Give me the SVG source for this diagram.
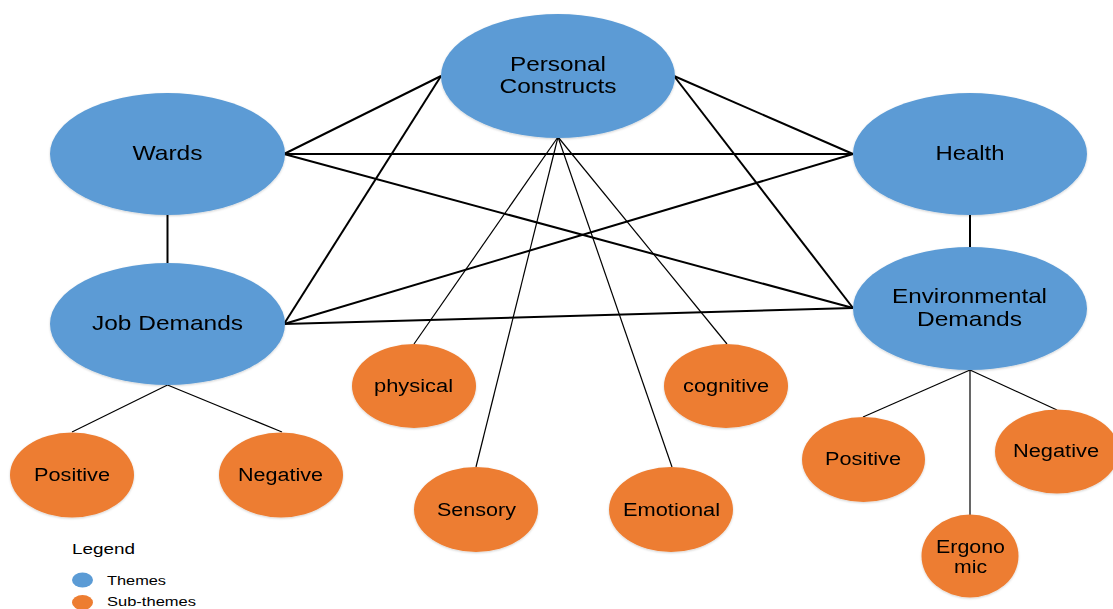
<svg xmlns="http://www.w3.org/2000/svg" width="1113" height="609" viewBox="0 0 1113 609">
  <style>
    .theme { fill: #5B9BD5; }
    .sub { fill: #ED7D31; }
    .label { font-family: "Liberation Sans", Arial, sans-serif; fill: #000; text-anchor: middle; }
    .tl { font-size: 21px; }
    .sl { font-size: 18px; }
    .leg { font-family: "Liberation Sans", Arial, sans-serif; fill: #000; }
    .main line { stroke: #000; stroke-width: 2; }
    .branch line { stroke: #000; stroke-width: 1.2; }
  </style>
  <defs>
    <filter id="soft" x="-10%" y="-10%" width="120%" height="120%">
      <feGaussianBlur in="SourceAlpha" stdDeviation="1.2" result="b"/>
      <feOffset dy="1" result="o"/>
      <feFlood flood-color="#000" flood-opacity="0.18"/>
      <feComposite in2="o" operator="in" result="s"/>
      <feMerge><feMergeNode in="s"/><feMergeNode in="SourceGraphic"/></feMerge>
    </filter>
  </defs>
  <rect width="1113" height="609" fill="#fff"/>

  <!-- connectors -->
  <g id="connectors">
    <g class="main">
      <line x1="284" y1="154" x2="441" y2="76"/>
      <line x1="284" y1="154" x2="853" y2="154"/>
      <line x1="284" y1="154" x2="853" y2="308"/>
      <line x1="284" y1="324" x2="441" y2="76"/>
      <line x1="284" y1="324" x2="853" y2="154"/>
      <line x1="284" y1="324" x2="853" y2="308"/>
      <line x1="674" y1="76" x2="853" y2="154"/>
      <line x1="674" y1="76" x2="853" y2="308"/>
      <line x1="167.5" y1="215" x2="167.5" y2="263"/>
      <line x1="970" y1="215" x2="970" y2="247"/>
    </g>
    <g class="branch">
      <line x1="558" y1="137" x2="414" y2="344"/>
      <line x1="558" y1="137" x2="476" y2="467"/>
      <line x1="558" y1="137" x2="672" y2="467"/>
      <line x1="558" y1="137" x2="727" y2="344"/>
      <line x1="167.5" y1="385" x2="72" y2="432"/>
      <line x1="167.5" y1="385" x2="282" y2="432"/>
      <line x1="970" y1="370" x2="863" y2="417"/>
      <line x1="970" y1="370" x2="970" y2="515"/>
      <line x1="970" y1="370" x2="1057" y2="410"/>
    </g>
  </g>

  <!-- themes -->
  <g id="personal-constructs" filter="url(#soft)">
    <ellipse class="theme" cx="558" cy="76" rx="117" ry="62"/>
    <text class="label tl" x="558" y="71" textLength="96" lengthAdjust="spacingAndGlyphs">Personal</text>
    <text class="label tl" x="558" y="93" textLength="117" lengthAdjust="spacingAndGlyphs">Constructs</text>
  </g>
  <g id="wards" filter="url(#soft)">
    <ellipse class="theme" cx="167.5" cy="154" rx="117.5" ry="61"/>
    <text class="label tl" x="167.5" y="160" textLength="70" lengthAdjust="spacingAndGlyphs">Wards</text>
  </g>
  <g id="job-demands" filter="url(#soft)">
    <ellipse class="theme" cx="167.5" cy="324" rx="117.5" ry="61"/>
    <text class="label tl" x="167.5" y="330" textLength="151" lengthAdjust="spacingAndGlyphs">Job Demands</text>
  </g>
  <g id="health" filter="url(#soft)">
    <ellipse class="theme" cx="970" cy="154" rx="117" ry="61"/>
    <text class="label tl" x="970" y="160" textLength="69" lengthAdjust="spacingAndGlyphs">Health</text>
  </g>
  <g id="environmental-demands" filter="url(#soft)">
    <ellipse class="theme" cx="970" cy="308.5" rx="117" ry="61.5"/>
    <text class="label tl" x="969.5" y="303" textLength="155" lengthAdjust="spacingAndGlyphs">Environmental</text>
    <text class="label tl" x="969.5" y="326" textLength="105" lengthAdjust="spacingAndGlyphs">Demands</text>
  </g>

  <!-- sub-themes -->
  <g id="jd-positive" filter="url(#soft)">
    <ellipse class="sub" cx="72" cy="475" rx="62" ry="42.5"/>
    <text class="label sl" x="72" y="481" textLength="76" lengthAdjust="spacingAndGlyphs">Positive</text>
  </g>
  <g id="jd-negative" filter="url(#soft)">
    <ellipse class="sub" cx="281" cy="475" rx="62" ry="42.5"/>
    <text class="label sl" x="280.5" y="481" textLength="85" lengthAdjust="spacingAndGlyphs">Negative</text>
  </g>
  <g id="physical" filter="url(#soft)">
    <ellipse class="sub" cx="414" cy="386" rx="62" ry="42"/>
    <text class="label sl" x="413.5" y="392" textLength="79" lengthAdjust="spacingAndGlyphs">physical</text>
  </g>
  <g id="cognitive" filter="url(#soft)">
    <ellipse class="sub" cx="726" cy="386" rx="62" ry="42"/>
    <text class="label sl" x="726" y="392" textLength="86" lengthAdjust="spacingAndGlyphs">cognitive</text>
  </g>
  <g id="sensory" filter="url(#soft)">
    <ellipse class="sub" cx="476" cy="509.5" rx="62" ry="42.5"/>
    <text class="label sl" x="476.5" y="516" textLength="79" lengthAdjust="spacingAndGlyphs">Sensory</text>
  </g>
  <g id="emotional" filter="url(#soft)">
    <ellipse class="sub" cx="671" cy="509.5" rx="62" ry="42.5"/>
    <text class="label sl" x="671.5" y="516" textLength="97" lengthAdjust="spacingAndGlyphs">Emotional</text>
  </g>
  <g id="ed-positive" filter="url(#soft)">
    <ellipse class="sub" cx="863.5" cy="459.5" rx="61.5" ry="42.5"/>
    <text class="label sl" x="863" y="465" textLength="76" lengthAdjust="spacingAndGlyphs">Positive</text>
  </g>
  <g id="ed-negative" filter="url(#soft)">
    <ellipse class="sub" cx="1057" cy="451.5" rx="62" ry="42"/>
    <text class="label sl" x="1056" y="457" textLength="86" lengthAdjust="spacingAndGlyphs">Negative</text>
  </g>
  <g id="ergonomic" filter="url(#soft)">
    <ellipse class="sub" cx="970" cy="556" rx="48.5" ry="41.5"/>
    <text class="label sl" x="970.5" y="553" textLength="69" lengthAdjust="spacingAndGlyphs">Ergono</text>
    <text class="label sl" x="970.5" y="573" textLength="33" lengthAdjust="spacingAndGlyphs">mic</text>
  </g>

  <!-- legend -->
  <g id="legend">
    <text class="leg" x="72" y="554" font-size="15" textLength="63" lengthAdjust="spacingAndGlyphs">Legend</text>
    <ellipse class="theme" cx="82.5" cy="580" rx="10.5" ry="7.5"/>
    <text class="leg" x="107" y="585" font-size="13" textLength="59" lengthAdjust="spacingAndGlyphs">Themes</text>
    <ellipse class="sub" cx="82.5" cy="602.5" rx="10.5" ry="7.5"/>
    <text class="leg" x="107" y="606" font-size="13" textLength="89" lengthAdjust="spacingAndGlyphs">Sub-themes</text>
  </g>
</svg>
